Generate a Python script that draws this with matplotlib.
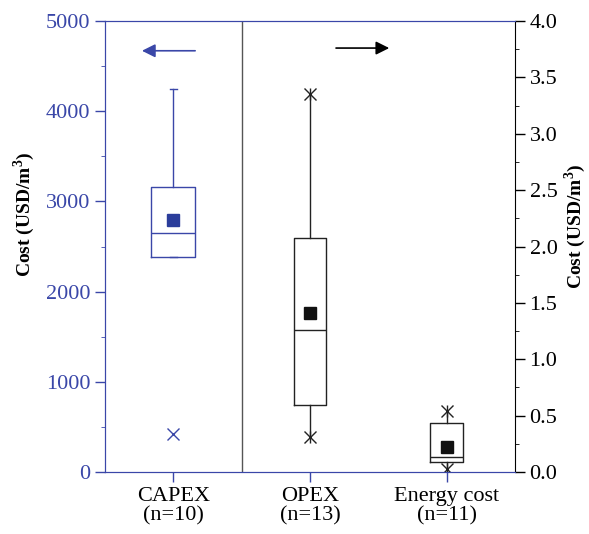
import numpy as np
import matplotlib.pyplot as plt

# box statistics
capex_stats = dict(q1=2380, med=2645, q3=3160, whislo=2380, whishi=4250, mean=2790)
capex_outliers = [421]

cats = ['OPEX', 'Energy cost']
opex_q1 = [0.592, 0.089]
opex_med = [1.257, 0.136]
opex_q3 = [2.075, 0.437]
opex_lo = [0.308, 0.027]
opex_hi = [3.35, 0.544]
opex_mean = [1.41, 0.219]

xlabels = ['CAPEX\n(n=10)', 'OPEX\n(n=13)', 'Energy cost\n(n=11)']

blue = '#3a47a8'
dark_blue = '#2b3d9b'

plt.rcParams.update({
    'font.family': 'Liberation Serif',
    'font.size': 16,
    'mathtext.fontset': 'custom',
    'mathtext.rm': 'Liberation Serif',
    'mathtext.bf': 'Liberation Serif:bold',
})

fig = plt.figure(figsize=(5.89, 5.34), dpi=100)
ax = fig.add_axes([105/589, 62/534, 410/589, 451/534])
ax2 = ax.twinx()

# CAPEX on left axis
st = dict(capex_stats, fliers=capex_outliers, label='')
ax.bxp([st], positions=[1], widths=0.32, showmeans=True, capwidths=[0.05],
       boxprops=dict(color=blue, lw=1),
       medianprops=dict(color=blue, lw=1),
       whiskerprops=dict(color=blue, lw=1),
       capprops=dict(color=blue, lw=1),
       meanprops=dict(marker='s', markerfacecolor=dark_blue, markeredgecolor=dark_blue, markersize=8.5),
       flierprops=dict(marker='x', markeredgecolor=blue, markersize=9, markeredgewidth=1))

# OPEX / energy on right axis
stats = []
for i in range(len(cats)):
    stats.append(dict(q1=opex_q1[i], med=opex_med[i], q3=opex_q3[i],
                      whislo=opex_lo[i], whishi=opex_hi[i], mean=opex_mean[i],
                      fliers=[], label=''))
pos = [2, 3]
ax2.bxp(stats, positions=pos, widths=0.24, showmeans=True, showcaps=False,
        boxprops=dict(color='#222222', lw=1),
        medianprops=dict(color='#222222', lw=1),
        whiskerprops=dict(color='#222222', lw=1),
        meanprops=dict(marker='s', markerfacecolor='#111111', markeredgecolor='#111111', markersize=8.5))
# min/max markers: x with a vertical stroke
for mk in ['x', '|']:
    ax2.plot(pos, opex_hi, ls='none', marker=mk, color='#222222', markersize=9, markeredgewidth=1)
    ax2.plot(pos, opex_lo, ls='none', marker=mk, color='#222222', markersize=9, markeredgewidth=1)

ax.axvline(1.5, color='#555555', lw=1)

ax.set_xlim(0.5, 3.5)
ax.set_ylim(0, 5000)
ax2.set_ylim(0, 4.0)
ax.set_xticks([1, 2, 3])
ax.set_xticklabels(xlabels, linespacing=1.0)
ax.set_yticks(np.arange(0, 5001, 1000))
ax.set_yticks(np.arange(0, 5001, 500), minor=True)
ax2.set_yticks(np.arange(0, 4.01, 0.5))
ax2.set_yticks(np.arange(0, 4.01, 0.25), minor=True)
ax2.set_yticklabels(['%.1f' % v for v in np.arange(0, 4.01, 0.5)])

ax.tick_params(axis='y', colors=blue, direction='out', length=7, width=1, labelsize=16)
ax.tick_params(axis='y', which='minor', colors=blue, length=3)
ax.tick_params(axis='x', colors=blue, direction='out', length=7, width=1, labelcolor='black', labelsize=16, pad=4)
ax2.tick_params(axis='y', colors='black', direction='out', length=7, width=1, labelsize=16)
ax2.tick_params(axis='y', which='minor', length=3)

for sp in ['left', 'bottom', 'top']:
    ax.spines[sp].set_color(blue)
    ax2.spines[sp].set_color(blue)
ax2.spines['right'].set_color('black')
ax.spines['right'].set_visible(False)

ax.set_ylabel(r'Cost (USD/m$^\mathbf{3}$)', fontweight='bold', fontsize=14)
ax2.set_ylabel(r'Cost (USD/m$^\mathbf{3}$)', fontweight='bold', fontsize=14)
ax.yaxis.set_label_coords(-0.166, 0.572)
ax2.yaxis.set_label_coords(1.116, 0.545)

# direction arrows
ax.annotate('', xy=(0.75, 4670), xytext=(1.18, 4670),
            arrowprops=dict(arrowstyle='-|>', color=blue, lw=1.2, mutation_scale=20))
ax2.annotate('', xy=(2.6, 3.76), xytext=(2.17, 3.76),
             arrowprops=dict(arrowstyle='-|>', color='black', lw=1.2, mutation_scale=20))

fig.savefig('out.png', dpi=100)
